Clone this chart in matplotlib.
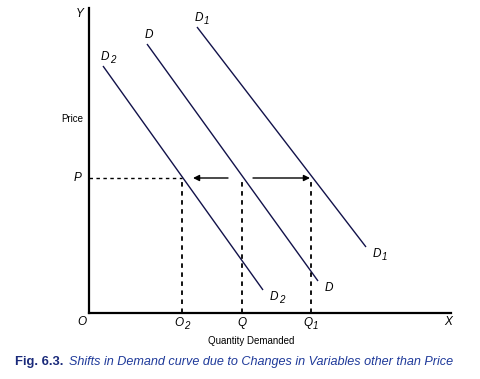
import matplotlib.pyplot as plt
#--------------------------------------------------------------------------------------------------------------------
# Data (quantity on x, price on y, arbitrary units)
#--------------------------------------------------------------------------------------------------------------------
curve_names = [('D', '2'), ('D', ''), ('D', '1')]
curve_x     = [[14, 174], [58, 229], [108, 277]]
curve_y     = [[247, 23], [269, 32], [286, 66]]
price_p     = 135
quantities  = [93, 153, 222]
qty_labels  = [('O', '2'), ('Q', ''), ('Q', '1')]
x_max, y_max = 362, 305
arrow_left  = [139, 104]
arrow_right = [164, 221]
#--------------------------------------------------------------------------------------------------------------------
# Style
#--------------------------------------------------------------------------------------------------------------------
plt.rcParams['font.family'] = ['Liberation Sans', 'DejaVu Sans']
line_col = '#12124a'
#--------------------------------------------------------------------------------------------------------------------
# Helper: italic letter with a fairly large subscript
#--------------------------------------------------------------------------------------------------------------------
def sub_label(ax, x, y, base, sub, ha='left', va='bottom'):
    t = ax.text(x, y, base, fontsize=8.5, style='italic', ha=ha, va=va, clip_on=False)
    if sub:
        ax.annotate(sub, xy=(1, 0), xycoords=t, xytext=(0.2, -1.5), textcoords='offset points',
                    fontsize=7, style='italic', ha='left', va='bottom', annotation_clip=False)
    return t
#--------------------------------------------------------------------------------------------------------------------
# Figure
#--------------------------------------------------------------------------------------------------------------------
fig = plt.figure(figsize=(4.81, 3.79), dpi=100)
ax = fig.add_axes([89/481, 66/379, 362/481, 305/379])
ax.set_xlim(0, x_max)
ax.set_ylim(0, y_max)
for s in ['top', 'right']:
    ax.spines[s].set_visible(False)
for s in ['left', 'bottom']:
    ax.spines[s].set_linewidth(1.6)
    ax.spines[s].set_color('black')
ax.set_xticks([])
ax.set_yticks([])

# demand curves
for (base, sub), xs, ys in zip(curve_names, curve_x, curve_y):
    ax.plot(xs, ys, color=line_col, lw=1.0, solid_capstyle='butt')
    sub_label(ax, xs[0] - 2, ys[0] + 3, base, sub, ha='left', va='bottom')
    sub_label(ax, xs[1] + 7, ys[1] - 1, base, sub, ha='left', va='top')

# price line and quantity drop lines
ax.plot([0, quantities[0]], [price_p, price_p], color='black', lw=1.0, ls=(0, (2.5, 2.5)))
for q in quantities:
    ax.plot([q, q], [0, price_p], color='black', lw=1.3, ls=(0, (2.5, 2.5)))

# shift arrows
for a in [arrow_left, arrow_right]:
    ax.annotate('', xy=(a[1], price_p), xytext=(a[0], price_p),
                arrowprops=dict(arrowstyle='-|>', color='black', lw=1.0, mutation_scale=9,
                                shrinkA=0, shrinkB=0))

# axis letters
ax.text(-9, y_max - 6, 'Y', fontsize=8.5, style='italic', ha='center', va='center', clip_on=False)
ax.text(-6, 194, 'Price', fontsize=7, ha='right', va='center', clip_on=False)
ax.text(-11, price_p, 'P', fontsize=8.5, style='italic', ha='center', va='center', clip_on=False)
ax.text(-7, -9, 'O', fontsize=8.5, style='italic', ha='center', va='center', clip_on=False)
ax.text(x_max - 3, -9, 'X', fontsize=8.5, style='italic', ha='center', va='center', clip_on=False)
for q, (base, sub) in zip(quantities, qty_labels):
    sub_label(ax, q - (3 if sub else 0), -10, base, sub, ha='center', va='center')
ax.text(162, -28, 'Quantity Demanded', fontsize=7, ha='center', va='center', clip_on=False)

# caption
fig.text(15/481, 1 - 362/379, 'Fig. 6.3.', fontsize=9.4, fontweight='bold', color='#1a2a7a',
         ha='left', va='center')
fig.text(69/481, 1 - 362/379, 'Shifts in Demand curve due to Changes in Variables other than Price',
         fontsize=9.1, style='italic', color='#1f3a9a', ha='left', va='center')

plt.savefig('out.png', dpi=100)
